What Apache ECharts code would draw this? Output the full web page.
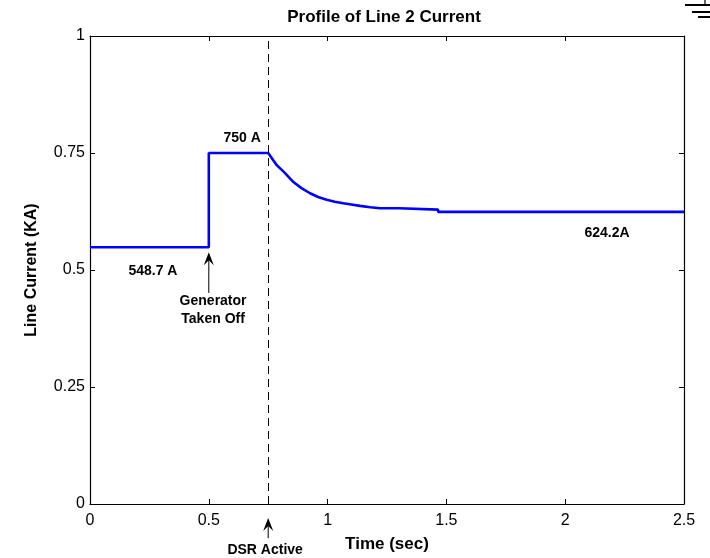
<!DOCTYPE html>
<html>
<head>
<meta charset="utf-8">
<script src="https://cdn.jsdelivr.net/npm/echarts@6/dist/echarts.min.js"></script>
<style>html,body{margin:0;padding:0;background:#fff}#c{width:710px;height:558px}</style>
</head>
<body>
<div id="c"></div>
<script>
// Time (sec)
var timeValues = [0, 0.5, 0.5, 0.75, 0.758, 0.786, 0.821, 0.856, 0.89, 0.926, 0.96, 0.996, 1.03, 1.066, 1.1, 1.136, 1.18, 1.22, 1.30, 1.30, 1.465, 1.465, 2.5];
// Line current (kA)
var currentValues = [0.5487, 0.5487, 0.75, 0.75, 0.749, 0.724, 0.707, 0.688, 0.675, 0.664, 0.656, 0.650, 0.646, 0.6425, 0.640, 0.637, 0.634, 0.632, 0.632, 0.629, 0.629, 0.6242, 0.6242];
var xTicks = [0, 0.5, 1, 1.5, 2, 2.5];
var yTicks = [0, 0.25, 0.5, 0.75, 1];
var dsrTime = 0.75;
var genTime = 0.5;
var titleText = 'Profile of Line 2 Current';
var xName = 'Time (sec)';
var yName = 'Line Current (KA)';
// annotation texts anchored in data coordinates
var noteTexts = ['750 A', '548.7 A', 'Generator\nTaken Off', '624.2A', 'DSR Active'];
var noteX = [0.64, 0.265, 0.518, 2.176, 0.737];
var noteY = [0.782, 0.498, 0.414, 0.579, -0.098];
// arrows: x, from y, to y (tip)
var arrowX = [genTime, dsrTime];
var arrowFrom = [0.451, -0.073];
var arrowTo = [0.538, -0.030];

var data = timeValues.map(function (t, i) { return [t, currentValues[i]]; });
var chart = echarts.init(document.getElementById('c'));
var FONT = '"Liberation Sans", Arial, sans-serif';
var axisCommon = {
  min: 0,
  axisLine: { show: true, onZero: false, lineStyle: { color: '#000', width: 1.2 } },
  axisTick: { show: true, inside: true, length: 5, lineStyle: { color: '#000' } },
  splitLine: { show: false }
};
chart.setOption({
  animation: false,
  backgroundColor: '#fff',
  title: {
    text: titleText, left: 379, top: 4, textAlign: 'center',
    textStyle: { fontFamily: FONT, fontWeight: 'bold', fontSize: 17, color: '#000' }
  },
  grid: { left: 90, right: 26, top: 36, bottom: 54 },
  xAxis: [
    Object.assign({}, axisCommon, {
      type: 'value', max: 2.5, interval: 0.5, position: 'bottom',
      name: xName, nameLocation: 'middle', nameGap: 32,
      nameTextStyle: { fontFamily: FONT, fontWeight: 'bold', fontSize: 17, color: '#000' },
      axisLabel: { fontFamily: FONT, fontSize: 16, color: '#000', margin: 9 }
    }),
    Object.assign({}, axisCommon, {
      type: 'value', max: 2.5, interval: 0.5, position: 'top', axisLabel: { show: false }
    })
  ],
  yAxis: [
    Object.assign({}, axisCommon, {
      type: 'value', max: 1, interval: 0.25, position: 'left',
      name: yName, nameLocation: 'middle', nameGap: 50, nameRotate: 90,
      nameTextStyle: { fontFamily: FONT, fontWeight: 'bold', fontSize: 16, color: '#000' },
      axisLabel: { fontFamily: FONT, fontSize: 16, color: '#000', margin: 5 }
    }),
    Object.assign({}, axisCommon, {
      type: 'value', max: 1, interval: 0.25, position: 'right', axisLabel: { show: false }
    })
  ],
  series: [{
    type: 'line',
    data: data,
    showSymbol: false,
    symbol: 'none',
    lineStyle: { color: '#0000ff', width: 2.6 },
    markLine: {
      silent: true, symbol: 'none', label: { show: false },
      lineStyle: { color: '#000', type: [8, 5], width: 1 },
      data: [{ xAxis: dsrTime }]
    }
  }]
});

var g = [];
noteTexts.forEach(function (t, i) {
  var p = chart.convertToPixel({ gridIndex: 0 }, [noteX[i], noteY[i]]);
  g.push({
    type: 'text', x: p[0], y: p[1],
    style: { text: t, fontFamily: FONT, fontWeight: 'bold', fontSize: 14, fill: '#000', align: 'center', verticalAlign: 'middle', lineHeight: 18 },
    z: 10
  });
});
arrowX.forEach(function (x, i) {
  var a = chart.convertToPixel({ gridIndex: 0 }, [x, arrowFrom[i]]);
  var b = chart.convertToPixel({ gridIndex: 0 }, [x, arrowTo[i]]);
  g.push({ type: 'line', shape: { x1: a[0], y1: a[1], x2: b[0], y2: b[1] + 4 }, style: { stroke: '#000', lineWidth: 1 }, z: 10 });
  g.push({ type: 'polygon', shape: { points: [[b[0], b[1]], [b[0] - 5, b[1] + 13], [b[0], b[1] + 8], [b[0] + 5, b[1] + 13]] }, style: { fill: '#000' }, z: 10 });
});
// small decorative ground-like glyph at top-right
g.push({ type: 'line', shape: { x1: 705, y1: 0, x2: 705, y2: 5 }, style: { stroke: '#000', lineWidth: 1.2 } });
g.push({ type: 'line', shape: { x1: 685, y1: 5, x2: 710, y2: 5 }, style: { stroke: '#000', lineWidth: 2 } });
g.push({ type: 'line', shape: { x1: 692, y1: 12, x2: 710, y2: 12 }, style: { stroke: '#000', lineWidth: 2 } });
g.push({ type: 'line', shape: { x1: 698, y1: 17, x2: 710, y2: 17 }, style: { stroke: '#000', lineWidth: 2 } });
chart.setOption({ graphic: g });
</script>
</body>
</html>
